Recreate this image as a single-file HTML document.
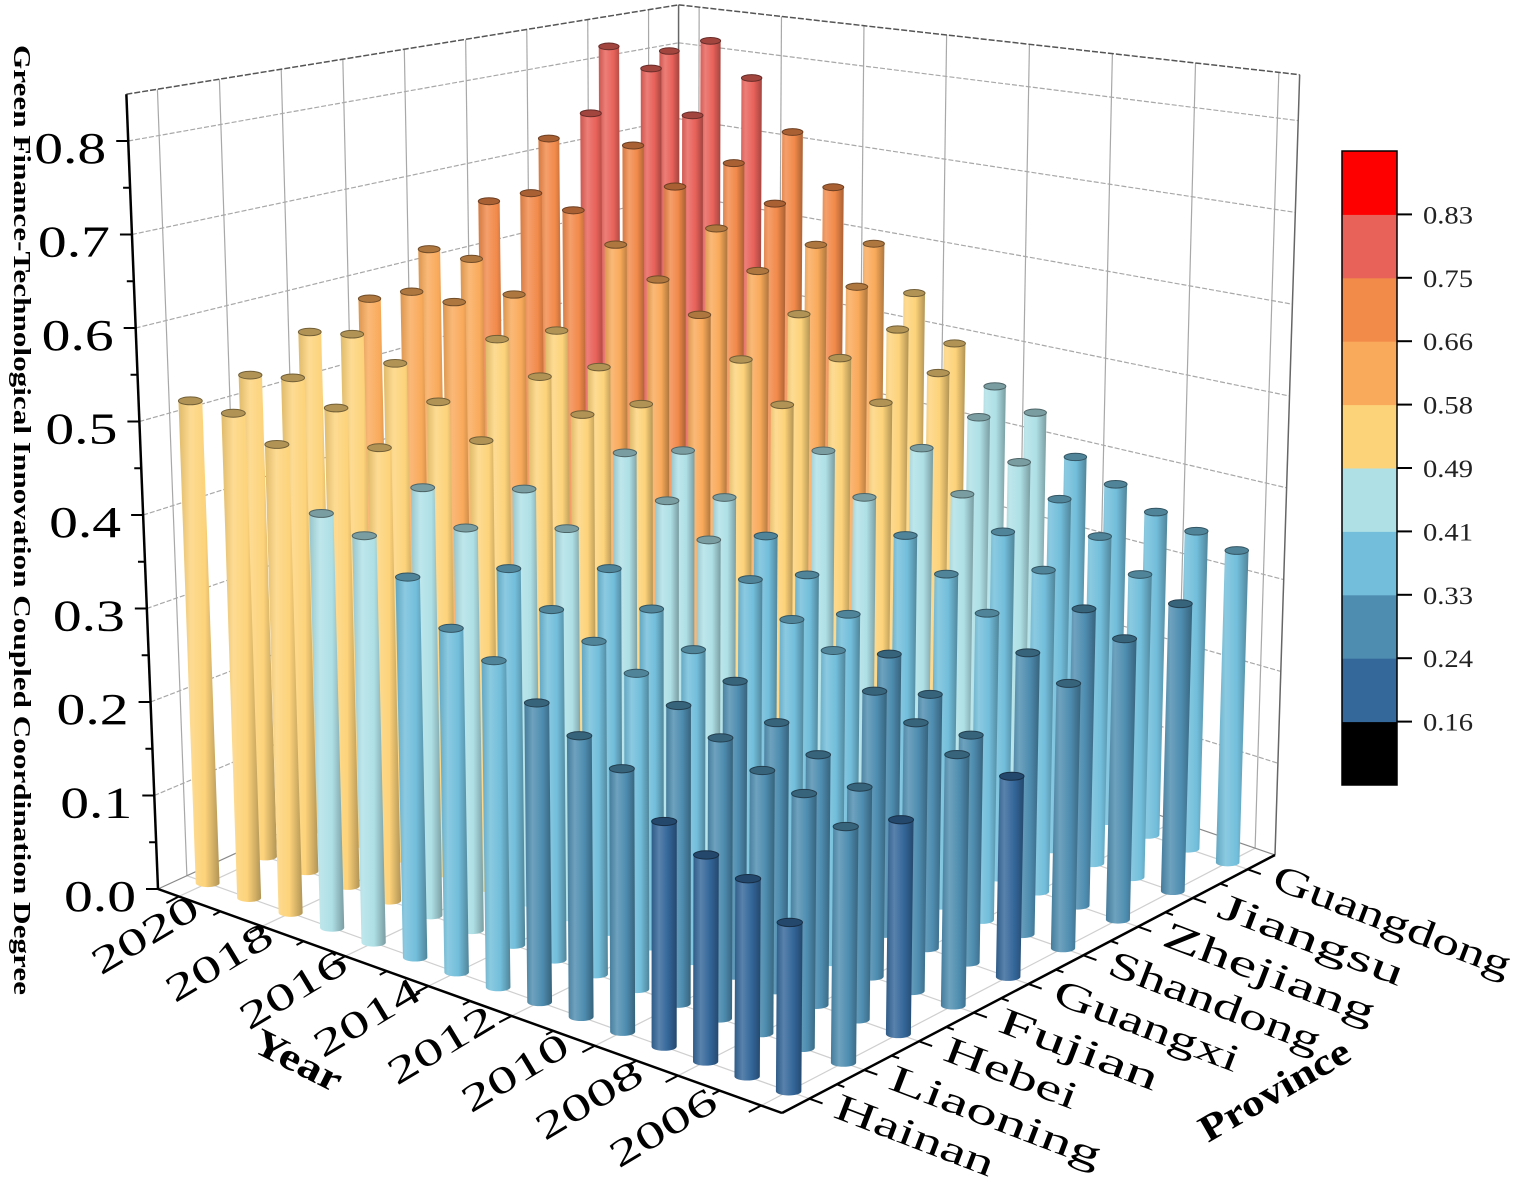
<!DOCTYPE html>
<html><head><meta charset="utf-8"><style>
html,body{margin:0;padding:0;background:#fff;}
svg{display:block;}
text{font-family:"Liberation Serif",serif;}
</style></head>
<body>
<svg id="chart" width="1535" height="1189" viewBox="0 0 1535 1189" xmlns="http://www.w3.org/2000/svg">
<defs id="defs"></defs>
<g id="walls"></g>
<g id="bars"></g>
<g id="axes"></g>
<text transform="translate(14,520) rotate(90)" text-anchor="middle" font-weight="bold" font-size="24" textLength="950" lengthAdjust="spacingAndGlyphs">Green Finance-Technological Innovation Coupled Coordination Degree</text>
<text transform="translate(250,1050) rotate(27)" font-weight="bold" font-size="38" textLength="95" lengthAdjust="spacingAndGlyphs">Year</text>
<text transform="translate(1208,1143) rotate(-30)" font-weight="bold" font-size="38" textLength="168" lengthAdjust="spacingAndGlyphs">Province</text>
<g id="colorbar"></g>
</svg>
<script>
// ---- data ----
const provinces = ["Hainan","Liaoning","Hebei","Fujian","Guangxi","Shandong","Zhejiang","Jiangsu","Guangdong"];
const years = [2006,2007,2008,2009,2010,2011,2012,2013,2014,2015,2016,2017,2018,2019,2020];
const hainan    = [0.17,0.20,0.21,0.23,0.27,0.29,0.31,0.34,0.36,0.40,0.43,0.44,0.50,0.52,0.52];
const liaoning  = [0.24,0.26,0.27,0.29,0.31,0.33,0.35,0.37,0.40,0.43,0.46,0.49,0.52,0.54,0.53];
const hebei     = [0.22,0.24,0.26,0.28,0.31,0.33,0.36,0.39,0.42,0.45,0.49,0.52,0.55,0.57,0.56];
const fujian    = [0.26,0.28,0.30,0.33,0.35,0.38,0.41,0.44,0.48,0.51,0.54,0.57,0.60,0.60,0.58];
const guangxi   = [0.21,0.24,0.27,0.30,0.33,0.36,0.39,0.42,0.46,0.50,0.53,0.56,0.59,0.62,0.62];
const shandong  = [0.28,0.30,0.33,0.36,0.39,0.42,0.46,0.50,0.54,0.58,0.61,0.64,0.67,0.68,0.66];
const zhejiang  = [0.30,0.32,0.35,0.38,0.41,0.45,0.49,0.53,0.57,0.61,0.65,0.69,0.73,0.76,0.72];
const jiangsu   = [0.31,0.33,0.36,0.39,0.42,0.46,0.50,0.54,0.58,0.62,0.66,0.70,0.75,0.80,0.82];
const guangdong = [0.34,0.35,0.36,0.38,0.40,0.44,0.46,0.50,0.55,0.60,0.66,0.72,0.78,0.82,0.80];
const seriesByProvince = [hainan,liaoning,hebei,fujian,guangxi,shandong,zhejiang,jiangsu,guangdong];
const valueTicks = [0.0,0.1,0.2,0.3,0.4,0.5,0.6,0.7,0.8];
const valueTickLabels = ["0.0","0.1","0.2","0.3","0.4","0.5","0.6","0.7","0.8"];
const yearTickLabels = ["2006","2008","2010","2012","2014","2016","2018","2020"];
const binEdges = [0.16,0.24,0.33,0.41,0.49,0.58,0.66,0.75,0.83];
const binLabels = ["0.16","0.24","0.33","0.41","0.49","0.58","0.66","0.75","0.83"];
const binColors = ["#000000","#34679a","#4e8db0","#72bedb","#aee0e6","#fdd37a","#f9aa5a","#f28a4a","#e8625a","#ff0000"];

// ---- projection ----
const NS = "http://www.w3.org/2000/svg";
const F = {x:782,y:1113}, Rc = {x:1275,y:855}, Lc = {x:158,y:889}, K = {x:678,y:650};
const sF = 1000, sR = 918, sL = 935, sK = 759;
const V = {x:660,y:13500};
const HMAX = 0.85;
function floorPt(u,v){
  const a=(1-u)*(1-v), b=u*(1-v), c=(1-u)*v, d=u*v;
  return {x:F.x*a+Rc.x*b+Lc.x*c+K.x*d, y:F.y*a+Rc.y*b+Lc.y*c+K.y*d};
}
function scaleAt(u,v){ return sF*(1-u)*(1-v)+sR*u*(1-v)+sL*(1-u)*v+sK*u*v; }
function up(P,h){ const f=(P.x>V.x)?0.65:1; return {x:P.x+f*(P.x-V.x)*h/(V.y-P.y), y:P.y-h}; }
function pt3(u,v,val){ return up(floorPt(u,v), val*scaleAt(u,v)); }
function uOf(p){ return (p+0.5)/provinces.length; }
function vOf(i){ return (i+0.5)/years.length; }
function mk(tag,attrs,parent){ const e=document.createElementNS(NS,tag); for(const k in attrs) e.setAttribute(k,attrs[k]); parent.appendChild(e); return e; }
function line(g,a,b,stroke,w,dash){ const l=mk('line',{x1:a.x,y1:a.y,x2:b.x,y2:b.y,stroke:stroke,'stroke-width':w},g); if(dash) l.setAttribute('stroke-dasharray',dash); return l; }
function binOf(v){ let i=0; while(i<binEdges.length && v>=binEdges[i]) i++; return i; }
function mix(hex,t,target){ const n=parseInt(hex.slice(1),16); let r=n>>16,g=(n>>8)&255,b=n&255; const T=target; r=Math.round(r+(T-r)*t); g=Math.round(g+(T-g)*t); b=Math.round(b+(T-b)*t); return `rgb(${r},${g},${b})`; }

const defs=document.getElementById('defs');
binColors.forEach((c,i)=>{
  const lg=mk('linearGradient',{id:'g'+i,x1:'0',y1:'0',x2:'1',y2:'0'},defs);
  mk('stop',{offset:'0','stop-color':mix(c,0.12,0)},lg);
  mk('stop',{offset:'0.3','stop-color':mix(c,0.18,255)},lg);
  mk('stop',{offset:'0.65','stop-color':c},lg);
  mk('stop',{offset:'1','stop-color':mix(c,0.3,0)},lg);
});

// ---- walls & grid ----
const walls=document.getElementById('walls');
const gridCol="#a8a8a8";
for(let p=0;p<provinces.length;p++){ line(walls,floorPt(uOf(p),0),floorPt(uOf(p),1),"#cfcfcf",1.2); }
for(let i=0;i<years.length;i+=2){ line(walls,floorPt(0,vOf(i)),floorPt(1,vOf(i)),"#cfcfcf",1.2); }
valueTicks.slice(1).forEach(t=>{ line(walls,pt3(0,1,t),pt3(1,1,t),gridCol,1.2,"5 2"); line(walls,pt3(1,1,t),pt3(1,0,t),gridCol,1.2,"5 2"); });
for(let p=0;p<provinces.length;p++){ line(walls,floorPt(uOf(p),1),pt3(uOf(p),1,HMAX),gridCol,1.2); }
for(let i=0;i<years.length;i+=2){ line(walls,floorPt(1,vOf(i)),pt3(1,vOf(i),HMAX),gridCol,1.2); }
line(walls,floorPt(0,1),floorPt(1,1),"#888",1.2);
line(walls,floorPt(1,1),floorPt(1,0),"#888",1.2);
line(walls,pt3(0,1,HMAX),pt3(1,1,HMAX),"#555",1.5,"6 2");
line(walls,pt3(1,1,HMAX),pt3(1,0,HMAX),"#555",1.5,"6 2");
line(walls,floorPt(1,1),pt3(1,1,HMAX),"#666",1.5);
line(walls,floorPt(1,0),pt3(1,0,HMAX),"#666",1.5);

// ---- bars ----
const barsG=document.getElementById('bars');
const items=[];
seriesByProvince.forEach((row,p)=>{ row.forEach((val,i)=>{ items.push({p,i,val}); }); });
items.forEach(it=>{ it.B=floorPt(uOf(it.p),vOf(it.i)); });
items.sort((a,b)=>a.B.y-b.B.y);
items.forEach(it=>{
  const u=uOf(it.p), v=vOf(it.i), s=scaleAt(u,v);
  const B=it.B, T=up(B,it.val*s);
  const r=12*s/935, ry=r*0.33;
  const bi=binOf(it.val);
  const g=mk('g',{},barsG);
  
  
  mk('path',{d:`M${B.x-r},${B.y} L${T.x-r},${T.y} L${T.x+r},${T.y} L${B.x+r},${B.y} A${r},${ry} 0 0 1 ${B.x-r},${B.y} Z`,fill:`url(#g${bi})`},g);
  mk('ellipse',{cx:T.x,cy:T.y,rx:r,ry:ry,fill:mix(binColors[bi],0.3,0),stroke:mix(binColors[bi],0.55,0),'stroke-width':1},g);
});

// ---- axes ----
const ax=document.getElementById('axes');
const top0=pt3(0,1,0), topM=pt3(0,1,HMAX);
const vAxis=line(ax,top0,topM,"#000",2.5);
 
for(let t=0;t<=0.8001;t+=0.05){ const A=pt3(0,1,t); const major=Math.abs(t*10-Math.round(t*10))<1e-6; line(ax,A,{x:A.x-(major?12:7),y:A.y},"#000",2); }
valueTicks.forEach((t,k)=>{
  const A=pt3(0,1,t);
  const tx=mk('text',{x:A.x-22,y:A.y+22,'text-anchor':'end','font-size':'44',textLength:'72',lengthAdjust:'spacingAndGlyphs'},ax);
  
  
  tx.textContent=valueTickLabels[k];
});
const yAx=line(ax,floorPt(0,0),floorPt(0,1),"#000",2.5);
 
const pAx=line(ax,floorPt(0,0),floorPt(1,0),"#000",2.5);
 
function norm(a,b){ const dx=b.x-a.x, dy=b.y-a.y, l=Math.hypot(dx,dy); return {x:dx/l,y:dy/l}; }
const outY=norm(Rc,F), outP=norm(Lc,F);
// year label anchors (label end points) interpolated along the axis
const labA={x:720,y:1108}, labB={x:202,y:915};
years.forEach((yr,i)=>{
  const P=floorPt(0,vOf(i)); const major=(i%2===0); const len=major?14:8;
  line(ax,P,{x:P.x+outY.x*len,y:P.y+outY.y*len},"#000",2);
  if(major){
    const t=i/(years.length-1);
    const Q={x:labA.x+(labB.x-labA.x)*t,y:labA.y+(labB.y-labA.y)*t};
    const tx=mk('text',{transform:`translate(${Q.x},${Q.y}) rotate(-31)`,'text-anchor':'end','font-size':'38',textLength:'118',lengthAdjust:'spacingAndGlyphs'},ax);
    
    
    tx.textContent=yearTickLabels[i/2];
  }
});
provinces.forEach((pr,p)=>{
  const P=floorPt(uOf(p),0);
  line(ax,P,{x:P.x+outP.x*14,y:P.y+outP.y*14},"#000",2);
  const Pm=floorPt((p+1)/provinces.length,0);
  if(p<provinces.length-1) line(ax,Pm,{x:Pm.x+outP.x*8,y:Pm.y+outP.y*8},"#000",2);
  const Q={x:P.x+outP.x*24,y:P.y+outP.y*24+10};
  const tx=mk('text',{transform:`translate(${Q.x},${Q.y}) rotate(21)`,'font-size':'38',textLength:String(pr.length*28),lengthAdjust:'spacingAndGlyphs'},ax);
  
  
  tx.textContent=pr;
});

// ---- colorbar ----
const cb=document.getElementById('colorbar');
const cbX=1342, cbW=55, cbTop=151, cbBot=785, nb=binColors.length, bh=(cbBot-cbTop)/nb;
binColors.forEach((c,i)=>{
  const r=mk('rect',{x:cbX,y:cbBot-(i+1)*bh,width:cbW,height:bh+0.5,fill:c},cb);
  
  
});
mk('rect',{x:cbX,y:cbTop,width:cbW,height:cbBot-cbTop,fill:'none',stroke:'#000','stroke-width':1.5},cb);
binLabels.forEach((lab,i)=>{
  const y=cbBot-(i+1)*bh;
  line(cb,{x:cbX+cbW,y:y},{x:cbX+cbW+15,y:y},"#000",2);
  const tx=mk('text',{x:cbX+cbW+26,y:y+9,'font-size':'25',textLength:'50',lengthAdjust:'spacingAndGlyphs',fill:'#222'},cb);
  
  
  tx.textContent=lab;
});
</script>
</body></html>
